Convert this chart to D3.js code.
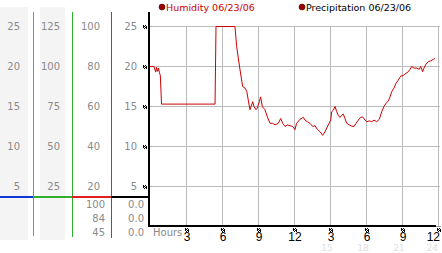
<!DOCTYPE html>
<html>
<head>
<meta charset="utf-8">
<script src="https://cdn.jsdelivr.net/npm/d3@7"></script>
<style>
  body { margin: 0; background: #fff; }
  svg { display: block; font-family: "DejaVu Sans", Verdana, sans-serif; }
</style>
</head>
<body>
<div id="chart"></div>
<script>
// humidity trace, hours since midnight 06/23/06
const hours = [0, 0.33, 0.48, 0.54, 0.63, 0.71, 0.79, 0.86, 0.96, 5.42, 5.5, 7.08, 7.22, 7.5, 7.72, 7.92,
  8.06, 8.19, 8.33, 8.56, 8.67, 8.83, 8.94, 9.11, 9.22, 9.36, 9.58, 9.78, 10.0, 10.22, 10.42, 10.69,
  10.89, 11.06, 11.25, 11.44, 11.67, 11.89, 12.08, 12.22, 12.5, 12.78, 12.92, 13.11, 13.33, 13.56,
  13.75, 13.94, 14.17, 14.39, 14.58, 14.86, 15.06, 15.14, 15.28, 15.42, 15.56, 15.69, 15.83, 15.97,
  16.11, 16.25, 16.39, 16.61, 16.81, 17.0, 17.17, 17.36, 17.56, 17.72, 17.92, 18.06, 18.28, 18.47,
  18.67, 18.89, 19.11, 19.31, 19.5, 19.67, 19.86, 20.0, 20.14, 20.33, 20.5, 20.69, 20.89, 21.11,
  21.33, 21.53, 21.67, 21.81, 22.0, 22.22, 22.44, 22.56, 22.72, 22.83, 23.0, 23.19, 23.39, 23.61, 23.75];
const humidity = [20.0, 20.0, 19.3, 19.9, 19.4, 19.8, 19.2, 18.9, 15.3, 15.3, 25.0, 25.0, 22.5, 19.6, 17.5, 17.3,
  16.9, 15.8, 14.6, 15.6, 15.0, 14.6, 14.8, 15.6, 16.2, 15.0, 14.6, 13.7, 12.9, 12.9, 12.7, 12.9,
  13.5, 12.9, 12.5, 12.7, 12.6, 12.5, 12.1, 12.9, 13.4, 13.65, 13.3, 13.1, 12.9, 12.5,
  12.6, 12.15, 11.85, 11.4, 11.85, 12.7, 13.3, 14.35, 14.55, 15.0, 14.35, 13.9, 13.65, 13.9,
  14.05, 13.5, 12.9, 12.7, 12.55, 12.5, 12.9, 13.3, 13.65, 13.7, 13.3, 13.1, 13.2, 13.1,
  13.3, 13.1, 13.4, 14.35, 15.0, 15.4, 15.7, 16.2, 16.85, 17.3, 17.9, 18.3, 18.8, 18.9,
  19.15, 19.35, 19.65, 20.0, 19.8, 19.8, 19.65, 20.0, 19.35, 19.8, 20.3, 20.6, 20.7, 20.9, 21.0];

const yTicks = [5, 10, 15, 20, 25];
const hourTicks = [3, 6, 9, 12, 15, 18, 21, 24];
const hourLabels = ["3", "6", "9", "12", "3", "6", "9", "12"];
const fadedLabels = ["", "", "", "", "15", "18", "21", "24"];
// left scale columns, listed bottom to top
const scaleCols = [
  ["5", "10", "15", "20", "25"],
  ["25", "50", "75", "100", "125"],
  ["20", "40", "60", "80", "100"],
  ["5", "10", "15", "20", "25"]
];
const currentCol3 = ["100", "84", "45"];
const currentCol4 = ["0.0", "0.0", "0.0"];
const legendItems = ["Humidity 06/23/06", "Precipitation 06/23/06"];

const width = 442, height = 253;
const svg = d3.select("#chart").append("svg")
  .attr("width", width)
  .attr("height", height);

const x = d3.scaleLinear().domain([0, 24]).range([150, 438]);
const y = d3.scaleLinear().domain([0, 25]).range([226, 26]);

// left scale panel
svg.append("rect").attr("x", 0).attr("y", 7).attr("width", 28).attr("height", 233).attr("fill", "#f4f4f4");
svg.append("rect").attr("x", 40).attr("y", 7).attr("width", 25).attr("height", 233).attr("fill", "#f4f4f4");

const colRight = [20, 60, 100, 137];
scaleCols.forEach((labels, i) => {
  svg.append("g").selectAll("text")
    .data(labels)
    .enter().append("text")
    .attr("x", colRight[i])
    .attr("y", (d, j) => y(yTicks[j]))
    .attr("dy", "0.35em")
    .attr("text-anchor", "end")
    .style("font-size", "10px")
    .style("fill", "#8a8a8a")
    .text(d => d);
});

const rowY = [204, 218, 232];
[[currentCol3, 105], [currentCol4, 144]].forEach(([labels, xr]) => {
  svg.append("g").selectAll("text")
    .data(labels)
    .enter().append("text")
    .attr("x", xr)
    .attr("y", (d, j) => rowY[j])
    .attr("dy", "0.35em")
    .attr("text-anchor", "end")
    .style("font-size", "10px")
    .style("fill", "#8a8a8a")
    .text(d => d);
});

// plot grid
svg.append("g").selectAll("line")
  .data(yTicks)
  .enter().append("line")
  .attr("x1", 150).attr("x2", 440)
  .attr("y1", d => y(d) + 0.5).attr("y2", d => y(d) + 0.5)
  .attr("stroke", "#bbb");

svg.append("g").selectAll("line")
  .data(hourTicks)
  .enter().append("line")
  .attr("x1", d => Math.round(x(d)) + 0.5).attr("x2", d => Math.round(x(d)) + 0.5)
  .attr("y1", y(25)).attr("y2", y(0))
  .attr("stroke", "#bbb");

// coloured scale separators
const vlines = [[33, "#2fa8d8", 236], [72, "#2eae2e", 237], [111, "#d02828", 238]];
vlines.forEach(([vx, c, y2]) => {
  svg.append("line").attr("x1", vx + 0.5).attr("x2", vx + 0.5).attr("y1", 12).attr("y2", y2)
    .attr("stroke", c);
});
const hsegs = [[0, 33, "#1038d0"], [33, 72, "#30b030"], [72, 111, "#e02020"], [111, 150, "#000"]];
hsegs.forEach(([a, b, c]) => {
  svg.append("line").attr("x1", a).attr("x2", b).attr("y1", 197).attr("y2", 197)
    .attr("stroke", c).attr("stroke-width", 2);
});

// axes
svg.append("line").attr("x1", 149).attr("x2", 149).attr("y1", 12).attr("y2", 227)
  .attr("stroke", "#000").attr("stroke-width", 2);
svg.append("line").attr("x1", 148).attr("x2", 436).attr("y1", 226).attr("y2", 226)
  .attr("stroke", "#000").attr("stroke-width", 2);
svg.append("line").attr("x1", 436).attr("x2", 441).attr("y1", 226.5).attr("y2", 226.5)
  .attr("stroke", "#999");

// little dithered tick glyphs
function glyph(g) {
  const cells = [[0, 0], [2, 0], [1, 1], [3, 1], [0, 2], [2, 2], [1, 3], [3, 3], [0, 1], [3, 2]];
  g.selectAll("rect").data(cells).enter().append("rect")
    .attr("x", d => d[0]).attr("y", d => d[1])
    .attr("width", 1).attr("height", 1).attr("fill", "#000");
}
svg.append("g").selectAll("g")
  .data(yTicks)
  .enter().append("g")
  .attr("transform", d => `translate(143,${y(d) - 1})`)
  .each(function () { glyph(d3.select(this)); });
svg.append("g").selectAll("g")
  .data(hourTicks)
  .enter().append("g")
  .attr("transform", d => `translate(${Math.round(x(d)) - 1},228)`)
  .each(function () { glyph(d3.select(this)); });

// hour labels
svg.append("text").attr("x", 153).attr("y", 236)
  .style("font-size", "10px").style("fill", "#8a8a8a").text("Hours");
svg.append("g").selectAll("text")
  .data(hourTicks)
  .enter().append("text")
  .attr("x", (d, i) => i === hourTicks.length - 1 ? width - 2 : x(d) + 1)
  .attr("y", 241)
  .attr("text-anchor", (d, i) => i === hourTicks.length - 1 ? "end" : "middle")
  .style("font-family", "'Liberation Sans', Arial, sans-serif")
  .style("font-size", "12px")
  .style("fill", "#000")
  .text((d, i) => hourLabels[i]);
svg.append("g").selectAll("text")
  .data(hourTicks)
  .enter().append("text")
  .attr("x", (d, i) => i === hourTicks.length - 1 ? width - 4 : x(d) - 3)
  .attr("y", 251)
  .attr("text-anchor", (d, i) => i === hourTicks.length - 1 ? "end" : "middle")
  .style("font-size", "9px")
  .style("fill", "#dedede")
  .text((d, i) => fadedLabels[i]);

// humidity line
const line = d3.line()
  .x((d, i) => x(hours[i]))
  .y(d => y(d) + 0.5);
svg.append("path")
  .datum(humidity)
  .attr("d", line)
  .attr("fill", "none")
  .attr("stroke", "#cc0000")
  .attr("stroke-width", 1);

// legend
const legendX = [162, 302];
const legendColor = ["#cc0000", "#000"];
legendItems.forEach((t, i) => {
  svg.append("circle").attr("cx", legendX[i]).attr("cy", 7).attr("r", 3)
    .attr("fill", "#990000").attr("stroke", "#550000").attr("stroke-width", 0.6);
  svg.append("text").attr("x", legendX[i] + 4).attr("y", 10.5)
    .style("font-size", "9.5px")
    .style("fill", legendColor[i])
    .text(t);
});
</script>
</body>
</html>
